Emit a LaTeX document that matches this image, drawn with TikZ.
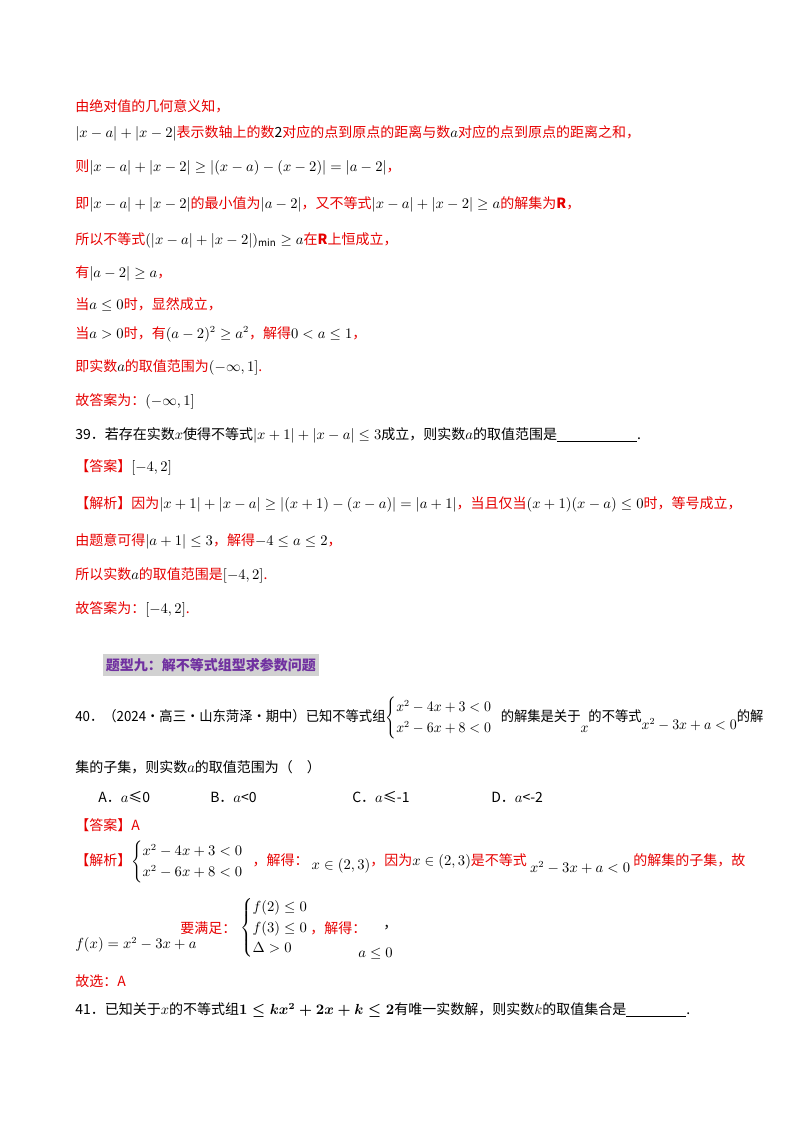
\documentclass[tikz,border=0pt]{standalone}
\usepackage{amsmath,amssymb}
\usepackage{fontspec}
\setmainfont{Noto Sans CJK SC}
\definecolor{rd}{RGB}{230,0,0}
\definecolor{pp}{RGB}{112,48,160}
\newcommand\Rd[1]{\textcolor{rd}{#1}}
\newcommand\ab[1]{\left|#1\right|}
\begin{document}
\begin{tikzpicture}[x=0.75pt,y=-0.75pt,
  ln/.style={anchor=west,inner sep=0pt,font=\fontsize{10.5}{13}\selectfont},
  rl/.style={ln,text=rd}]
\useasboundingbox (0,0) rectangle (800,1132);
\node[rl] (l1) at (75,106) {由绝对值的几何意义知，};
\node[rl] (l2) at (75,133) {\textcolor{black}{$\ab{x-a}+\ab{x-2}$}表示数轴上的数\textcolor{black}{2}对应的点到原点的距离与数\textcolor{black}{$a$}对应的点到原点的距离之和，};
\node[rl] (l3) at (75,167) {则\textcolor{black}{$\ab{x-a}+\ab{x-2}\ge\ab{(x-a)-(x-2)}=\ab{a-2}$}，};
\node[rl] (l4) at (75,204) {即\textcolor{black}{$\ab{x-a}+\ab{x-2}$}的最小值为\textcolor{black}{$\ab{a-2}$}，又不等式\textcolor{black}{$\ab{x-a}+\ab{x-2}\ge a$}的解集为$\mathbf{R}$，};
\node[rl] (l5) at (75,240) {所以不等式\textcolor{black}{$(\ab{x-a}+\ab{x-2})_{\min}\ge a$}在$\mathbf{R}$上恒成立，};
\node[rl] (l6) at (75,273) {有\textcolor{black}{$\ab{a-2}\ge a$}，};
\node[rl] (l7) at (75,305) {当\textcolor{black}{$a\le 0$}时，显然成立，};
\node[rl] (l8) at (75,334) {当\textcolor{black}{$a>0$}时，有\textcolor{black}{$(a-2)^2\ge a^2$}，解得\textcolor{black}{$0<a\le 1$}，};
\node[rl] (l9) at (75,367) {即实数\textcolor{black}{$a$}的取值范围为\textcolor{black}{$\left(-\infty,1\right]$}.};
\node[rl] (l10) at (75,401) {故答案为：\textcolor{black}{$(-\infty,1]$}};
\node[ln] (l11) at (75,435) {39．若存在实数$x$使得不等式$|x+1|+|x-a|\le 3$成立，则实数$a$的取值范围是\underline{\hspace{60pt}}.};
\node[ln] (l12) at (75,467) {\Rd{【答案】}$\left[-4,2\right]$};
\node[ln] (l13) at (75,504) {\Rd{【解析】因为}$\ab{x+1}+\ab{x-a}\ge\ab{(x+1)-(x-a)}=\ab{a+1}$\Rd{，当且仅当}$(x+1)(x-a)\le 0$\Rd{时，等号成立，}};
\node[rl] (l14) at (75,541) {由题意可得\textcolor{black}{$\ab{a+1}\le 3$}，解得\textcolor{black}{$-4\le a\le 2$}，};
\node[rl] (l15) at (75,575) {所以实数\textcolor{black}{$a$}的取值范围是\textcolor{black}{$\left[-4,2\right]$}.};
\node[rl] (l16) at (75,609) {故答案为：\textcolor{black}{$\left[-4,2\right]$}.};
\node[anchor=west,fill=black!18,inner xsep=2pt,inner ysep=3pt,text=pp,font=\fontsize{10.5}{13}\selectfont\bfseries] (h) at (103,665) {题型九：解不等式组型求参数问题};
\node[ln] (l17) at (75,718) {\scalebox{0.95}[1]{40．（2024·高三·山东菏泽·期中）已知不等式组$\begin{cases}x^2-4x+3<0\\x^2-6x+8<0\end{cases}$\kern-4pt 的解集是关于\raisebox{-8pt}{$x$}的不等式\raisebox{-6pt}{$x^2-3x+a<0$}的解}};
\node[ln] (l18) at (75,767) {集的子集，则实数$a$的取值范围为（\quad）};
\node[ln] (oa) at (98,797) {A．$a$≤0};
\node[ln] (ob) at (210,797) {B．$a$<0};
\node[ln] (oc) at (352,797) {C．$a$≤-1};
\node[ln] (od) at (491,797) {D．$a$<-2};
\node[rl] (l19) at (75,825) {【答案】A};
\node[ln] (l20) at (75,862) {\Rd{【解析】}$\begin{cases}x^2-4x+3<0\\x^2-6x+8<0\end{cases}$\kern-4pt\Rd{，解得：}\ \raisebox{-3pt}{$x\in(2,3)$}\Rd{，因为}$x\in(2,3)$\Rd{是不等式}\ \raisebox{-5pt}{$x^2-3x+a<0$}\ \Rd{的解集的子集，故}};
\node[ln] (fx) at (75,945) {$f(x)=x^2-3x+a$};
\node[rl] (yq) at (180,928) {要满足：};
\node[ln] (sys) at (240,928) {$\begin{cases}f(2)\le 0\\f(3)\le 0\\\Delta>0\end{cases}$};
\node[rl] (jd) at (310,928) {，解得：};
\node[ln] (cm) at (383,928) {，};
\node[ln] (ans) at (358,954) {$a\le 0$};
\node[rl] (l21) at (75,981) {故选：A};
\node[ln] (l22) at (75,1010) {41．已知关于$x$的不等式组$\boldsymbol{1\le kx^2+2x+k\le 2}$有唯一实数解，则实数$k$的取值集合是\underline{\hspace{45pt}}.};
\end{tikzpicture}
\end{document}
